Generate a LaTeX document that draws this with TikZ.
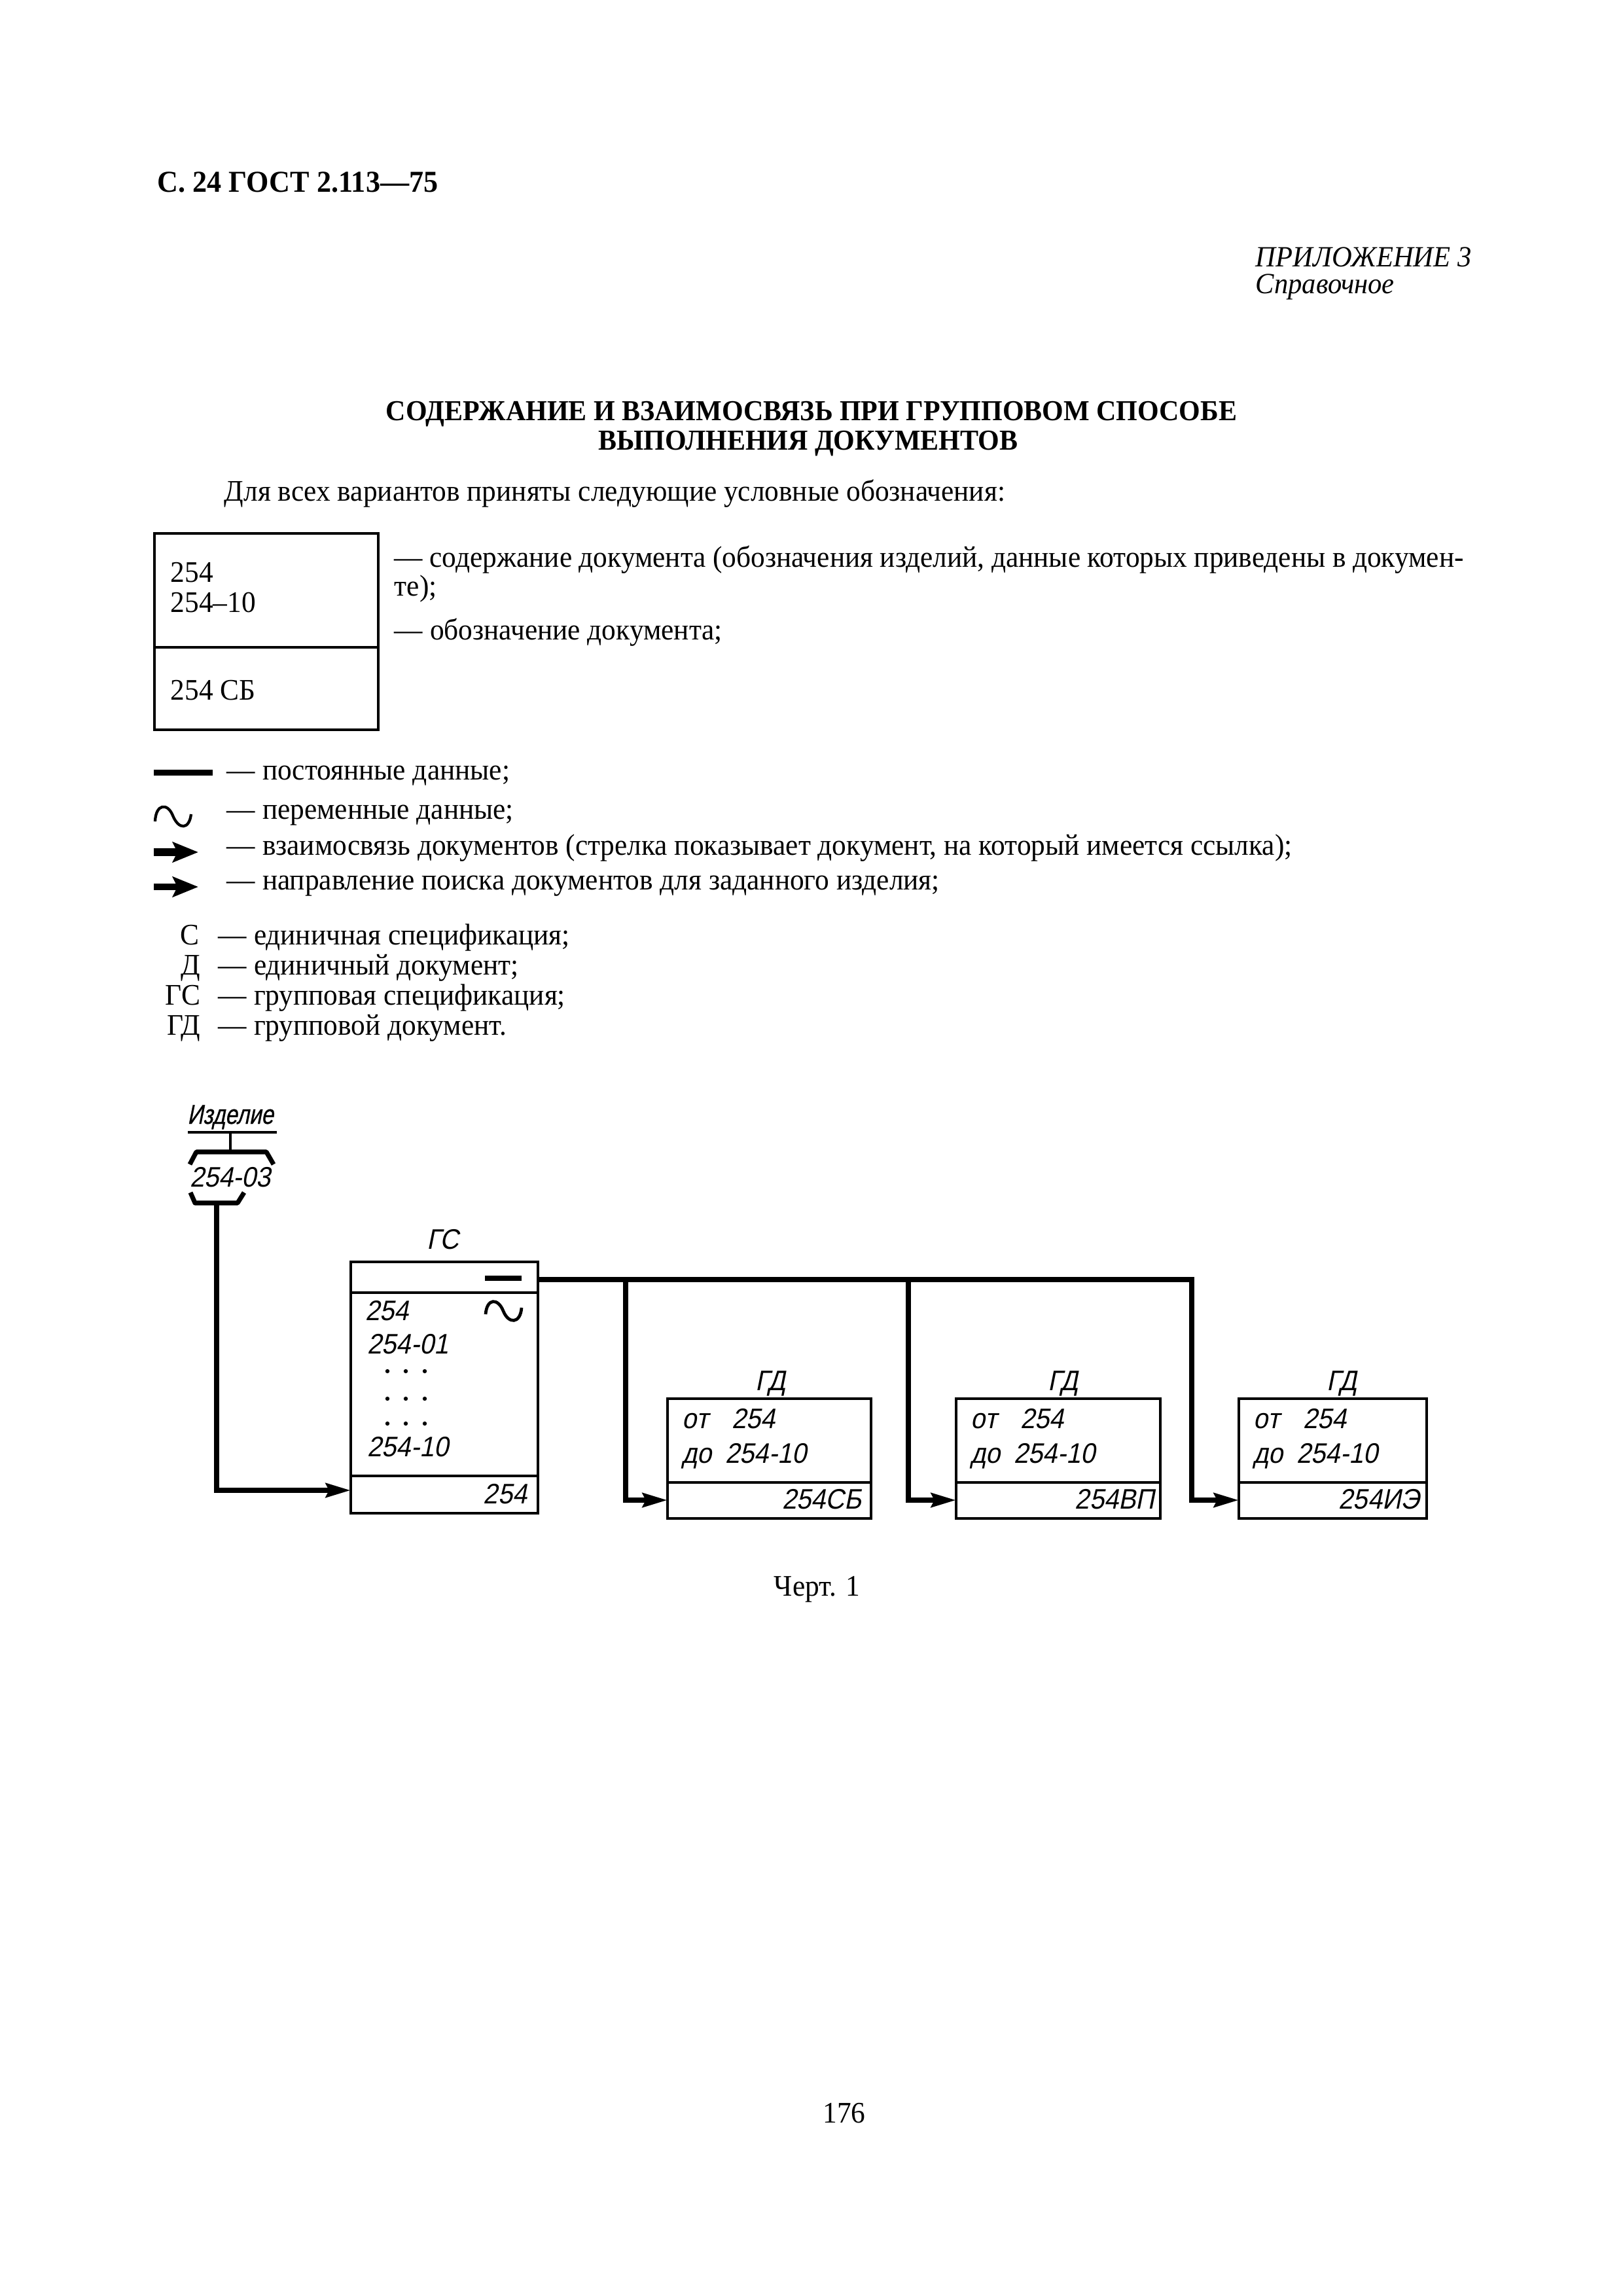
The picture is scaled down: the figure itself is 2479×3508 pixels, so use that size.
\documentclass[tikz,border=0pt]{standalone}
\usepackage{fontspec}
\setmainfont{Liberation Serif}[FakeStretch=0.95]
\newfontfamily\gost[FakeSlant=0.2,FakeStretch=0.92]{Liberation Sans}
\newfontfamily\gostn[FakeSlant=0.2,FakeStretch=0.8,FakeBold=0.6]{Liberation Sans}
\usetikzlibrary{arrows.meta}
\def\u{0.084712mm}
\tikzset{
  body/.style={font=\fontsize{11pt}{13pt}\selectfont, inner sep=0pt, anchor=base west},
  gtxt/.style={font=\gost\fontsize{10.4pt}{12pt}\selectfont, inner sep=0pt, anchor=base west},
  box/.style={draw, line width=0.34mm, inner sep=0pt, outer sep=0pt, anchor=north west},
  thinline/.style={line width=0.34mm},
  heavy/.style={line width=0.7mm},
  flow/.style={line width=0.7mm, -{Stealth[length=3.2mm,width=1.8mm,inset=0.4mm]}},
}
\begin{document}
\begin{tikzpicture}[x=0.084712mm, y=-0.084712mm]
\useasboundingbox (0,0) rectangle (2479,3508);
\fill[white] (0,0) rectangle (2479,3508);

% ---------- header ----------
\node[body, font=\fontsize{11.2pt}{13pt}\selectfont\bfseries] (hdr) at (240,293) {С. 24 ГОСТ 2.113—75};
\node[body, font=\fontsize{10.8pt}{13pt}\selectfont\itshape] (app) at (1918,407) {ПРИЛОЖЕНИЕ 3};
\node[body, font=\fontsize{10.8pt}{13pt}\selectfont\itshape] (ref) at (1918,448) {Справочное};
\node[body, anchor=base, font=\fontsize{10.65pt}{13pt}\selectfont\bfseries] (t1) at (1240,642) {СОДЕРЖАНИЕ И ВЗАИМОСВЯЗЬ ПРИ ГРУППОВОМ СПОСОБЕ};
\node[body, anchor=base, font=\fontsize{10.65pt}{13pt}\selectfont\bfseries] (t2) at (1235,687) {ВЫПОЛНЕНИЯ ДОКУМЕНТОВ};
\node[body] (intro) at (342,765) {Для всех вариантов приняты следующие условные обозначения:};

% ---------- legend box ----------
\node[box, line width=0.28mm, minimum width=342*\u, minimum height=300*\u] (legbox) at (236,815) {};
\draw[line width=0.28mm] (legbox.west |- 0,989) -- (legbox.east |- 0,989);
\node[body] (lb1) at (260,889) {254};
\node[body] (lb2) at (260,935) {254–10};
\node[body] (lb3) at (260,1069) {254 СБ};
\node[body] (ld1) at (602,866) {\makebox[138.4mm][s]{— содержание документа (обозначения изделий, данные которых приведены в докумен-}};
\node[body] (ld2) at (602,910) {те);};
\node[body] (ld3) at (602,977) {— обозначение документа;};

% ---------- legend symbols ----------
\draw[line width=0.76mm] (235,1180) -- (325,1180);
\draw[line width=0.36mm] (237,1255) .. controls (238,1228) and (256,1226) .. (264,1246) .. controls (273,1268) and (289,1268) .. (292,1244);
\draw[line width=1.0mm, -{Stealth[length=3.3mm,width=2.6mm,inset=0.6mm]}] (235,1302) -- (303,1302);
\draw[line width=0.85mm, -{Stealth[length=3.3mm,width=2.6mm,inset=0.6mm]}] (235,1355) -- (303,1355);
\node[body] (s1) at (346,1191) {— постоянные данные;};
\node[body] (s2) at (346,1251) {— переменные данные;};
\node[body] (s3) at (346,1306) {— взаимосвязь документов (стрелка показывает документ, на который имеется ссылка);};
\node[body] (s4) at (346,1359) {— направление поиска документов для заданного изделия;};

\node[body, anchor=base east] (a1) at (305,1443) {С};
\node[body, anchor=base east] (a2) at (307,1489) {Д};
\node[body, anchor=base east] (a3) at (307,1535) {ГС};
\node[body, anchor=base east] (a4) at (307,1581) {ГД};
\node[body] (a1t) at (333,1443) {— единичная спецификация;};
\node[body] (a2t) at (333,1489) {— единичный документ;};
\node[body] (a3t) at (333,1535) {— групповая спецификация;};
\node[body] (a4t) at (333,1581) {— групповой документ.};

% ---------- product ----------
\node[gtxt, anchor=base, font=\gostn\fontsize{10pt}{12pt}\selectfont] (izdname) at (352,1717) {Изделие};
\node[gtxt, anchor=base] (izd) at (352,1813) {254-03};
\draw[thinline] (287,1730) -- (423,1730);
\draw[thinline] (352,1730) -- (352,1760);
\draw[line width=0.6mm, line join=round] (290,1779) -- (300,1760) -- (407,1760) -- (418,1779);
\draw[line width=0.6mm, line join=round] (291,1822) -- (298,1838) -- (363,1838) -- (373,1822);
\coordinate (prod) at (331,1838);

% ---------- group specification ----------
\node[gtxt, anchor=base] (gclab) at (677,1908) {ГС};
\node[box, minimum width=286*\u, minimum height=384*\u] (gc) at (536,1928) {};
\draw[thinline] (gc.west |- 0,1975) -- (gc.east |- 0,1975);
\draw[thinline] (gc.west |- 0,2255) -- (gc.east |- 0,2255);
\draw[line width=0.6mm] (741,1953) -- (797,1953);
\draw[line width=0.4mm] (742,2008) .. controls (744,1983) and (761,1983) .. (769,2003) .. controls (777,2023) and (795,2023) .. (797,1998);
\node[gtxt] (g1) at (558,2017) {254};
\node[gtxt] (g2) at (561,2068) {254-01};
\foreach \yy in {2095,2137,2175}{
  \foreach \xx in {592,620,649}{
    \fill (\xx,\yy) circle[radius=0.27mm];
  }
}
\node[gtxt] (g3) at (561,2225) {254-10};
\node[gtxt, anchor=base east] (gdes) at (806,2297) {254};

% ---------- group documents ----------
\node[box, minimum width=311*\u, minimum height=183*\u] (gd1) at (1020,2137) {};
\node[box, minimum width=312*\u, minimum height=183*\u] (gd2) at (1461,2137) {};
\node[box, minimum width=287*\u, minimum height=183*\u] (gd3) at (1893,2137) {};
\foreach \b/\c in {gd1/1177,gd2/1624,gd3/2050}{
  \draw[thinline] (\b.west |- 0,2265) -- (\b.east |- 0,2265);
  \node[gtxt, anchor=base] at (\c,2124) {ГД};
  \node[gtxt] at ([xshift=22*\u]\b.west |- 0,2182) {от};
  \node[gtxt] at ([xshift=98*\u]\b.west |- 0,2182) {254};
  \node[gtxt] at ([xshift=22*\u]\b.west |- 0,2235) {до};
  \node[gtxt] at ([xshift=88*\u]\b.west |- 0,2235) {254-10};
}
\node[gtxt, anchor=base east] (d1) at ([xshift=-14*\u]gd1.east |- 0,2305) {254СБ};
\node[gtxt, anchor=base east] (d2) at ([xshift=-8*\u]gd2.east |- 0,2305) {254ВП};
\node[gtxt, anchor=base east] (d3) at ([xshift=-10*\u]gd3.east |- 0,2305) {254ИЭ};

% ---------- connectors ----------
\coordinate (b1) at (956,1955);
\coordinate (b2) at (1388,1955);
\coordinate (b3) at (1821,1955);
\draw[flow] (prod) |- (gc.west |- 0,2277);
\draw[flow, line join=miter] (gc.east |- 0,1955) -- (b3) |- (gd3.west |- 0,2292);
\draw[flow] (b1) |- (gd1.west |- 0,2292);
\draw[flow] (b2) |- (gd2.west |- 0,2292);

% ---------- footer ----------
\node[body] (fig) at (1182,2438) {Черт. 1};
\node[body, anchor=base] (pg) at (1290,3243) {176};
\end{tikzpicture}
\end{document}
